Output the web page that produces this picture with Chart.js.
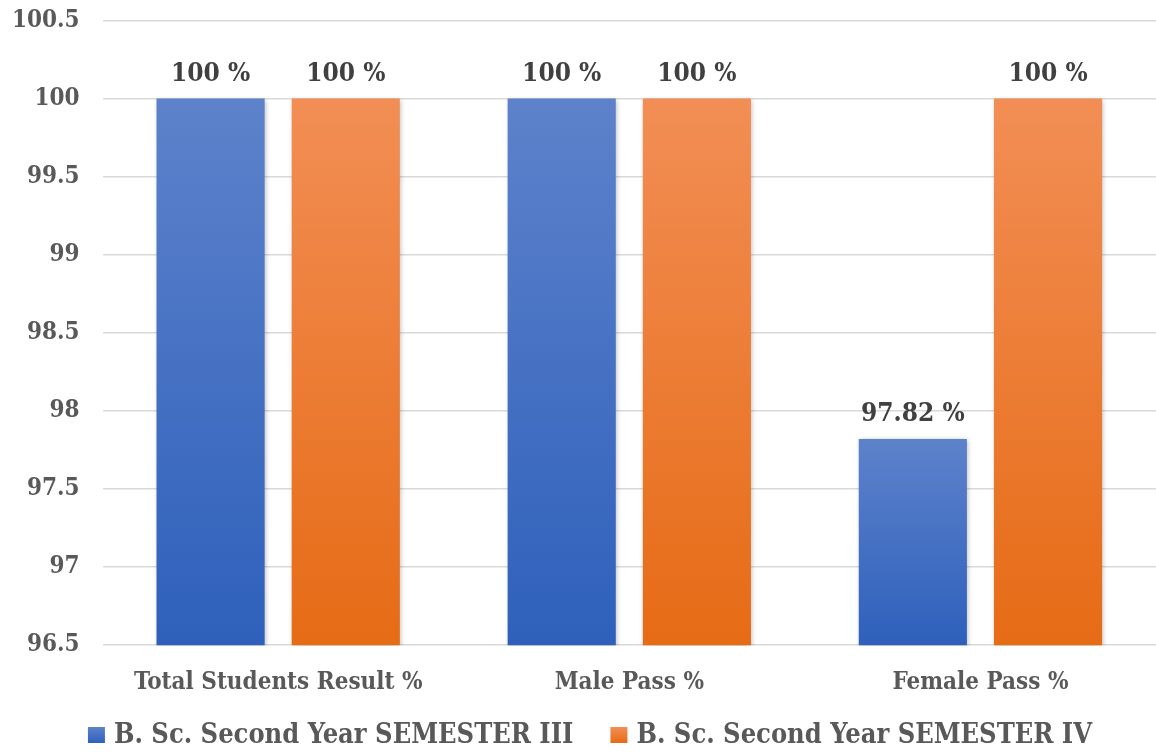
<!DOCTYPE html>
<html>
<head>
<meta charset="utf-8">
<script src="https://cdn.jsdelivr.net/npm/chart.js@4"></script>
<style>
  html, body { margin: 0; padding: 0; background: #fff; }
  #wrap { width: 1156px; height: 756px; }
</style>
</head>
<body>
<div id="wrap"><canvas id="myChart"></canvas></div>
<script>
// categories and series
const categories = ['Total Students Result %', 'Male Pass %', 'Female Pass %'];
const seriesNames = ['B. Sc. Second Year SEMESTER III', 'B. Sc. Second Year SEMESTER IV'];
const sem3Values = [100, 100, 97.82];
const sem4Values = [100, 100, 100];
const yTicks = [96.5, 97, 97.5, 98, 98.5, 99, 99.5, 100, 100.5];

const FONT = "'DejaVu Serif Condensed', 'DejaVu Serif', serif";
const blueTop = '#5d82cb', blueBottom = '#2e60bb';
const orangeTop = '#f28e55', orangeBottom = '#e66b15';
const seriesCols = [[blueTop, blueBottom], [orangeTop, orangeBottom]];

// vertical gradient for each bar, from its top to the axis
function barGradient(top, bottom) {
  return function (c) {
    const chart = c.chart;
    if (!chart.chartArea || c.raw === undefined) return top;
    const y = chart.scales.y;
    const y0 = y.getPixelForValue(c.raw);
    const y1 = y.getPixelForValue(y.min);
    const g = chart.ctx.createLinearGradient(0, y0, 0, y1);
    g.addColorStop(0, top);
    g.addColorStop(1, bottom);
    return g;
  };
}

// bar shadow + value labels + legend at the bottom
const barExtras = {
  id: 'barExtras',
  beforeDatasetsDraw(chart) {
    const ctx = chart.ctx;
    ctx.save();
    ctx.shadowColor = 'rgba(0,0,0,0.28)';
    ctx.shadowBlur = 5;
    ctx.shadowOffsetX = 1;
    ctx.shadowOffsetY = 1;
  },
  afterDatasetsDraw(chart) {
    const ctx = chart.ctx;
    ctx.restore();
    ctx.save();
    ctx.font = 'bold 26px ' + FONT;
    ctx.fillStyle = '#404040';
    ctx.textAlign = 'center';
    ctx.textBaseline = 'alphabetic';
    chart.data.datasets.forEach((ds, i) => {
      chart.getDatasetMeta(i).data.forEach((bar, j) => {
        ctx.fillText(ds.data[j] + ' %', bar.x, bar.y - 18);
      });
    });
    ctx.restore();
  },
  afterDraw(chart) {
    const ctx = chart.ctx;
    ctx.save();
    ctx.font = 'bold 27px ' + FONT;
    const box = 17, gapText = 9, gapItem = 37;
    const items = chart.data.datasets.map(ds => ds.label);
    let total = 0;
    items.forEach((t, i) => {
      total += box + gapText + ctx.measureText(t).width + (i < items.length - 1 ? gapItem : 0);
    });
    let x = chart.width / 2 - total / 2 + 12;
    const cy = 735;
    items.forEach((t, i) => {
      const g = ctx.createLinearGradient(0, cy - 8, 0, cy + 8);
      g.addColorStop(0, seriesCols[i][0]);
      g.addColorStop(1, seriesCols[i][1]);
      ctx.fillStyle = g;
      ctx.fillRect(x, cy - 8, box, 16);
      x += box + gapText;
      ctx.fillStyle = '#595959';
      ctx.textAlign = 'left';
      ctx.textBaseline = 'middle';
      ctx.fillText(t, x, cy + 1);
      x += ctx.measureText(t).width + gapItem;
    });
    ctx.restore();
  }
};

const ctx = document.getElementById('myChart').getContext('2d');
const myChart = new Chart(ctx, {
  type: 'bar',
  data: {
    labels: categories,
    datasets: [{
      label: seriesNames[0],
      data: sem3Values,
      backgroundColor: barGradient(blueTop, blueBottom),
      barPercentage: 0.8,
      categoryPercentage: 0.77
    }, {
      label: seriesNames[1],
      data: sem4Values,
      backgroundColor: barGradient(orangeTop, orangeBottom),
      barPercentage: 0.8,
      categoryPercentage: 0.77
    }]
  },
  options: {
    responsive: true,
    maintainAspectRatio: false,
    animation: false,
    layout: { padding: { top: 0, right: 0, left: 6, bottom: 44 } },
    plugins: {
      tooltip: { enabled: false },
      legend: { display: false }
    },
    scales: {
      x: {
        grid: { display: false },
        border: { display: false },
        ticks: {
          color: '#595959',
          font: { family: FONT, size: 24, weight: 'bold' },
          padding: 15
        }
      },
      y: {
        min: yTicks[0],
        max: yTicks[yTicks.length - 1],
        afterBuildTicks(axis) { axis.ticks = yTicks.map(v => ({ value: v })); },
        grid: { color: '#d9d9d9', lineWidth: 1.5, drawTicks: true, tickLength: 17, tickColor: 'rgba(0,0,0,0)' },
        border: { display: false },
        ticks: {
          color: '#595959',
          font: { family: FONT, size: 24, weight: 'bold' },
          padding: 6,
          callback: v => String(v)
        }
      }
    }
  },
  plugins: [barExtras]
});
</script>
</body>
</html>
